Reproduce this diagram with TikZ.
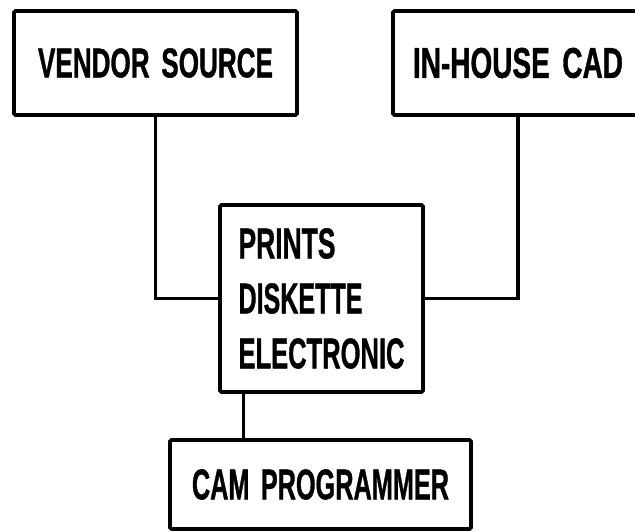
\documentclass[tikz,border=0pt]{standalone}
\usepackage{fontspec}
\setmainfont{Liberation Sans}[BoldFeatures={FakeBold=1.2}]
\usepackage{graphicx}
% Bold capitals squeezed to a given width and cap height
\newcommand{\fitcaps}[3]{\resizebox{#1pt}{#2pt}{\bfseries #3}}
\newcommand{\wgap}{\hspace{0.45em}}
\tikzset{
  unit/.style={draw, line width=3.6pt, inner sep=0pt, outer sep=0pt, rounded corners=1.5pt},
  link/.style={line width=3.4pt},
}
\begin{document}
\begin{tikzpicture}[x=1pt, y=-1pt]
  \useasboundingbox (0,0) rectangle (635,531);
  \clip (0,0) rectangle (635,531);
  \fill[white] (0,0) rectangle (635,531);

  % sources
  \node[unit, minimum width=283pt, minimum height=104pt] (vendor) at (155.5,63)
    {\fitcaps{235}{29}{VENDOR\wgap SOURCE}};
  \node[unit, minimum width=250pt, minimum height=104pt] (cad) at (518,63)
    {\fitcaps{210}{30}{IN-HOUSE\wgap CAD}};

  % transfer media
  \node[unit, minimum width=203pt, minimum height=187pt, align=left,
        font=\fontsize{30}{55}\selectfont] (media) at (321.5,298.5)
    {\fitcaps{97}{30}{PRINTS}\\\fitcaps{124}{30}{DISKETTE}\\\fitcaps{166}{30}{ELECTRONIC}};

  % programmer
  \node[unit, minimum width=301pt, minimum height=89pt] (cam) at (320.5,484.5)
    {\fitcaps{257}{30}{CAM\wgap PROGRAMMER}};

  % connectors
  \draw[link] (vendor.south) |- (media.west);
  \draw[link] (cad.south) |- (media.east);
  \coordinate (drop) at ([xshift=-78pt]media.south);
  \draw[link] (drop) -- (drop |- cam.north);
\end{tikzpicture}
\end{document}
